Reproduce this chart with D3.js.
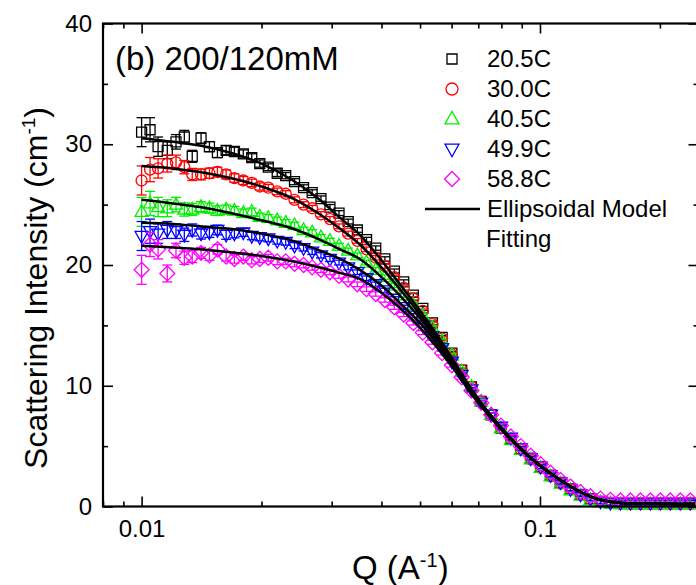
<!DOCTYPE html>
<html>
<head>
<meta charset="utf-8">
<script src="https://cdn.jsdelivr.net/npm/d3@7"></script>
<style>
  body { margin: 0; background: #fff; }
  text { font-family: "Liberation Sans", Arial, sans-serif; fill: #000; }
</style>
</head>
<body>
<div id="chart"></div>
<script>
(function () {
    /* ----------------------- Data ----------------------- */
    const qValues = [0.0100, 0.0105, 0.0110, 0.0116, 0.0122, 0.0128, 0.0134, 0.0141, 0.0148, 0.0155,
        0.0163, 0.0171, 0.0180, 0.0189, 0.0198, 0.0208, 0.0219, 0.0230, 0.0242, 0.0255,
        0.0268, 0.0282, 0.0297, 0.0313, 0.0330, 0.0348, 0.0367, 0.0387, 0.0408, 0.0431,
        0.0455, 0.0481, 0.0508, 0.0537, 0.0568, 0.0601, 0.0636, 0.0673, 0.0712, 0.0754,
        0.0798, 0.0845, 0.0895, 0.0948, 0.1004, 0.1063, 0.1126, 0.1193, 0.1264, 0.1339,
        0.1419, 0.1503, 0.1592, 0.1687, 0.1787, 0.1893, 0.2005, 0.2124, 0.2250, 0.2384];

    const errorBars = [1.2, 1.0, 0.8, 0.7, 0.6, 0.55, 0.5, 0.45, 0.42, 0.4,
        0.37, 0.35, 0.33, 0.31, 0.3, 0.28, 0.27, 0.26, 0.25, 0.24,
        0.23, 0.22, 0.21, 0.2, 0.2, 0.19, 0.19, 0.18, 0.18, 0.17,
        0.17, 0.17, 0.16, 0.16, 0.16, 0.15, 0.15, 0.15, 0.15, 0.15,
        0.15, 0.15, 0.15, 0.15, 0.15, 0.15, 0.15, 0.15, 0.15, 0.15,
        0.18, 0.2, 0.22, 0.22, 0.22, 0.22, 0.22, 0.22, 0.22, 0.22];

    const t205 = [31.0, 31.2, 29.8, 29.5, 30.2, 30.6, 29.0, 30.5, 29.8, 29.3,
        29.5, 29.4, 29.2, 28.9, 28.4, 28.1, 27.6, 27.4, 26.9, 26.4,
        26.0, 25.5, 24.8, 24.3, 23.6, 22.9, 22.1, 21.4, 20.5, 19.5,
        18.6, 17.5, 16.4, 15.2, 14.0, 12.7, 11.3, 9.9, 8.7, 7.6,
        6.5, 5.6, 4.8, 4.0, 3.3, 2.6, 2.0, 1.45, 1.0, 0.65,
        0.42, 0.3, 0.25, 0.25, 0.25, 0.25, 0.25, 0.25, 0.25, 0.25];
    const t300 = [27.0, 27.9, 28.0, 28.4, 28.5, 28.1, 27.5, 27.5, 27.6, 27.7,
        27.5, 27.2, 27.0, 26.8, 26.5, 26.4, 26.1, 25.9, 25.4, 25.0,
        24.7, 24.2, 23.8, 23.2, 22.6, 22.0, 21.3, 20.6, 19.9, 19.0,
        18.1, 17.2, 16.2, 15.1, 13.9, 12.6, 11.3, 9.9, 8.7, 7.6,
        6.5, 5.6, 4.7, 3.9, 3.2, 2.5, 1.9, 1.4, 0.95, 0.6,
        0.4, 0.3, 0.25, 0.2, 0.2, 0.2, 0.2, 0.2, 0.2, 0.2];
    const t405 = [24.4, 25.1, 24.8, 24.7, 25.0, 24.6, 24.6, 24.8, 24.7, 24.5,
        24.6, 24.5, 24.3, 24.4, 24.0, 23.9, 23.7, 23.5, 23.3, 22.9,
        22.7, 22.3, 22.0, 21.6, 21.2, 20.8, 20.2, 19.6, 19.0, 18.3,
        17.5, 16.7, 15.8, 14.8, 13.7, 12.5, 11.2, 9.9, 8.7, 7.6,
        6.5, 5.5, 4.7, 3.9, 3.2, 2.5, 1.9, 1.35, 0.9, 0.55,
        0.35, 0.25, 0.2, 0.2, 0.2, 0.2, 0.2, 0.2, 0.2, 0.2];
    const t499 = [22.4, 22.8, 22.6, 22.9, 22.8, 22.5, 22.9, 22.6, 22.7, 22.9,
        22.5, 22.6, 22.7, 22.4, 22.3, 22.2, 22.0, 21.9, 21.6, 21.4,
        21.1, 20.8, 20.5, 20.2, 19.8, 19.4, 18.9, 18.4, 17.9, 17.2,
        16.5, 15.8, 15.0, 14.1, 13.1, 12.0, 10.9, 9.7, 8.6, 7.6,
        6.6, 5.7, 4.8, 4.0, 3.3, 2.6, 2.0, 1.45, 1.0, 0.65,
        0.42, 0.3, 0.3, 0.3, 0.3, 0.3, 0.3, 0.3, 0.3, 0.3];
    const t588 = [19.6, 21.7, 21.3, 19.3, 21.2, 20.6, 20.7, 21.0, 20.8, 21.3,
        20.7, 20.5, 20.7, 20.4, 20.5, 20.6, 20.3, 20.3, 20.1, 20.0,
        19.8, 19.6, 19.4, 19.1, 18.8, 18.4, 18.0, 17.6, 17.1, 16.5,
        15.9, 15.2, 14.4, 13.6, 12.7, 11.7, 10.7, 9.6, 8.6, 7.6,
        6.7, 5.8, 5.0, 4.2, 3.5, 2.8, 2.2, 1.65, 1.2, 0.85,
        0.65, 0.55, 0.5, 0.5, 0.5, 0.5, 0.5, 0.5, 0.5, 0.5];

    const fitQ = [0.0100, 0.0120, 0.0140, 0.0167, 0.0200, 0.0240, 0.0280, 0.0315, 0.0353, 0.0400,
        0.0450, 0.0500, 0.0560, 0.0620, 0.0680, 0.0750, 0.0820, 0.0900, 0.1000, 0.1100,
        0.1200, 0.1300, 0.1400, 0.1500, 0.1700, 0.2000, 0.2450];
    const fit205 = [30.5, 30.2, 29.9, 29.3, 28.4, 27.0, 25.4, 23.9, 22.5, 20.4,
        18.2, 16.2, 13.9, 11.6, 9.5, 7.6, 6.1, 4.7, 3.4, 2.4,
        1.6, 1.0, 0.6, 0.4, 0.25, 0.22, 0.2];
    const fit300 = [28.2, 28.0, 27.7, 27.2, 26.5, 25.5, 24.2, 23.0, 21.7, 19.8,
        17.8, 15.9, 13.7, 11.5, 9.45, 7.6, 6.1, 4.7, 3.4, 2.4,
        1.6, 1.0, 0.6, 0.4, 0.25, 0.22, 0.2];
    const fit405 = [25.4, 25.1, 24.8, 24.3, 23.7, 23.0, 22.1, 21.3, 20.5, 19.0,
        17.3, 15.6, 13.5, 11.4, 9.4, 7.6, 6.1, 4.7, 3.4, 2.4,
        1.6, 1.0, 0.6, 0.4, 0.25, 0.22, 0.2];
    const fit499 = [23.5, 23.4, 23.2, 23.0, 22.6, 22.0, 21.2, 20.5, 19.6, 18.3,
        16.7, 15.2, 13.2, 11.2, 9.3, 7.5, 6.0, 4.7, 3.4, 2.4,
        1.6, 1.0, 0.6, 0.4, 0.25, 0.22, 0.2];
    const fit588 = [21.6, 21.45, 21.3, 21.05, 20.75, 20.3, 19.8, 19.35, 18.85, 17.7,
        16.3, 14.8, 12.9, 11.0, 9.1, 7.4, 6.0, 4.7, 3.4, 2.4,
        1.6, 1.0, 0.6, 0.4, 0.25, 0.22, 0.2];

    const seriesNames = ["20.5C", "30.0C", "40.5C", "49.9C", "58.8C"];
    const seriesData = [t205, t300, t405, t499, t588];
    const fitData = [fit205, fit300, fit405, fit499, fit588];
    const colors = ["#000000", "#ff0000", "#00ee00", "#0000ff", "#ff00ff"];
    const shapes = ["square", "circle", "up", "down", "diamond"];

    const xMajor = [0.01, 0.1];
    const xMinor = [0.008, 0.009, 0.02, 0.03, 0.04, 0.05, 0.06, 0.07, 0.08, 0.09, 0.2];
    const yMajor = [0, 10, 20, 30, 40];
    const yMinor = [5, 15, 25, 35];

    /* ----------------------- Dimensions ----------------------- */
    const W = 696, H = 585;
    const left = 103, right = 698.5, top = 23.5, bottom = 506.5;

    const svg = d3.select("#chart").append("svg")
        .attr("width", W).attr("height", H);

    const x = d3.scaleLog().domain([0.008, 0.25]).range([left, right]);
    const y = d3.scaleLinear().domain([0, 40]).range([bottom, top]);

    /* ----------------------- Markers ----------------------- */
    function shapePath(shape, s) {
        if (shape === "square") return `M${-s / 2},${-s / 2}h${s}v${s}h${-s}Z`;
        if (shape === "circle") { const r = s / 2; return `M${-r},0a${r},${r} 0 1,0 ${2 * r},0a${r},${r} 0 1,0 ${-2 * r},0Z`; }
        if (shape === "up") return `M0,${-s * 0.55}L${s / 2},${s * 0.35}L${-s / 2},${s * 0.35}Z`;
        if (shape === "down") return `M0,${s * 0.55}L${s / 2},${-s * 0.35}L${-s / 2},${-s * 0.35}Z`;
        return `M0,${-s / 2}L${s / 2},0L0,${s / 2}L${-s / 2},0Z`;
    }
    const markerSize = { square: 10, circle: 11, up: 13, down: 13, diamond: 15 };

    const plot = svg.append("g");

    seriesData.forEach((vals, i) => {
        const pts = qValues.map((q, j) => ({ q: q, v: vals[j], e: errorBars[j] }));
        const g = plot.append("g").attr("stroke", colors[i]).attr("fill", "none").attr("stroke-width", 1.3);

        g.selectAll("line.eb").data(pts).enter().append("line")
            .attr("x1", d => x(d.q)).attr("x2", d => x(d.q))
            .attr("y1", d => y(d.v + d.e)).attr("y2", d => y(d.v - d.e));
        g.selectAll("line.capt").data(pts).enter().append("line")
            .attr("x1", d => x(d.q) - 5).attr("x2", d => x(d.q) + 5)
            .attr("y1", d => y(d.v + d.e)).attr("y2", d => y(d.v + d.e));
        g.selectAll("line.capb").data(pts).enter().append("line")
            .attr("x1", d => x(d.q) - 5).attr("x2", d => x(d.q) + 5)
            .attr("y1", d => y(d.v - d.e)).attr("y2", d => y(d.v - d.e));
        g.selectAll("path").data(pts).enter().append("path")
            .attr("d", shapePath(shapes[i], markerSize[shapes[i]]))
            .attr("transform", d => `translate(${x(d.q)},${y(d.v)})`);
    });

    /* ----------------------- Fit lines ----------------------- */
    const line = d3.line().x(d => x(d[0])).y(d => y(d[1])).curve(d3.curveMonotoneX);
    fitData.forEach(vals => {
        plot.append("path")
            .attr("d", line(fitQ.map((q, j) => [q, vals[j]])))
            .attr("fill", "none").attr("stroke", "#000").attr("stroke-width", 2.5);
    });

    /* ----------------------- Axes ----------------------- */
    function styleAxis(g) {
        g.select(".domain").remove();
        g.selectAll(".tick line").attr("stroke", "#000").attr("stroke-width", 1.6);
        g.selectAll("text").style("font-size", "24px").attr("fill", "#000");
    }
    svg.append("g").attr("transform", `translate(0,${bottom})`)
        .call(d3.axisBottom(x).tickValues(xMajor).tickSize(-10).tickPadding(13).tickFormat(d3.format("")))
        .call(styleAxis);
    svg.append("g").attr("transform", `translate(0,${bottom})`)
        .call(d3.axisBottom(x).tickValues(xMinor).tickSize(-5).tickFormat(""))
        .call(styleAxis);
    svg.append("g").attr("transform", `translate(0,${top})`)
        .call(d3.axisTop(x).tickValues(xMajor).tickSize(-10).tickFormat(""))
        .call(styleAxis);
    svg.append("g").attr("transform", `translate(0,${top})`)
        .call(d3.axisTop(x).tickValues(xMinor).tickSize(-5).tickFormat(""))
        .call(styleAxis);
    svg.append("g").attr("transform", `translate(${left},0)`)
        .call(d3.axisLeft(y).tickValues(yMajor).tickSize(-10).tickPadding(11))
        .call(styleAxis);
    svg.append("g").attr("transform", `translate(${left},0)`)
        .call(d3.axisLeft(y).tickValues(yMinor).tickSize(-5).tickFormat(""))
        .call(styleAxis);
    svg.append("g").attr("transform", `translate(${right},0)`)
        .call(d3.axisRight(y).tickValues(yMajor).tickSize(-10).tickFormat(""))
        .call(styleAxis);
    svg.append("g").attr("transform", `translate(${right},0)`)
        .call(d3.axisRight(y).tickValues(yMinor).tickSize(-5).tickFormat(""))
        .call(styleAxis);

    svg.append("rect")
        .attr("x", left).attr("y", top)
        .attr("width", right - left).attr("height", bottom - top)
        .attr("fill", "none").attr("stroke", "#000").attr("stroke-width", 2.2);

    /* ----------------------- Labels ----------------------- */
    svg.append("text").attr("x", 115).attr("y", 70)
        .style("font-size", "33px").text("(b) 200/120mM");

    const yl = svg.append("text")
        .attr("transform", "translate(47,288) rotate(-90)")
        .attr("text-anchor", "middle").style("font-size", "32px");
    yl.append("tspan").text("Scattering Intensity (cm");
    yl.append("tspan").attr("dy", -12).style("font-size", "19px").text("-1");
    yl.append("tspan").attr("dy", 12).text(")");

    const xl = svg.append("text").attr("x", 352).attr("y", 579).style("font-size", "33px");
    xl.append("tspan").text("Q (A");
    xl.append("tspan").attr("dy", -12).style("font-size", "20px").text("-1");
    xl.append("tspan").attr("dy", 12).text(")");

    /* ----------------------- Legend ----------------------- */
    const legendSize = { square: 10, circle: 12, up: 14, down: 14, diamond: 15 };
    const legend = svg.append("g");
    seriesNames.forEach((name, i) => {
        const cy = 59 + i * 30;
        legend.append("path")
            .attr("d", shapePath(shapes[i], legendSize[shapes[i]]))
            .attr("transform", `translate(452,${cy})`)
            .attr("fill", "none").attr("stroke", colors[i]).attr("stroke-width", 1.3);
        legend.append("text").attr("x", 487).attr("y", cy + 8)
            .style("font-size", "24px").text(name);
    });
    legend.append("line").attr("x1", 425).attr("x2", 480).attr("y1", 209).attr("y2", 209)
        .attr("stroke", "#000").attr("stroke-width", 2.5);
    legend.append("text").attr("x", 487).attr("y", 217).style("font-size", "24px").text("Ellipsoidal Model");
    legend.append("text").attr("x", 486).attr("y", 247).style("font-size", "24px").text("Fitting");
})();
</script>
</body>
</html>
